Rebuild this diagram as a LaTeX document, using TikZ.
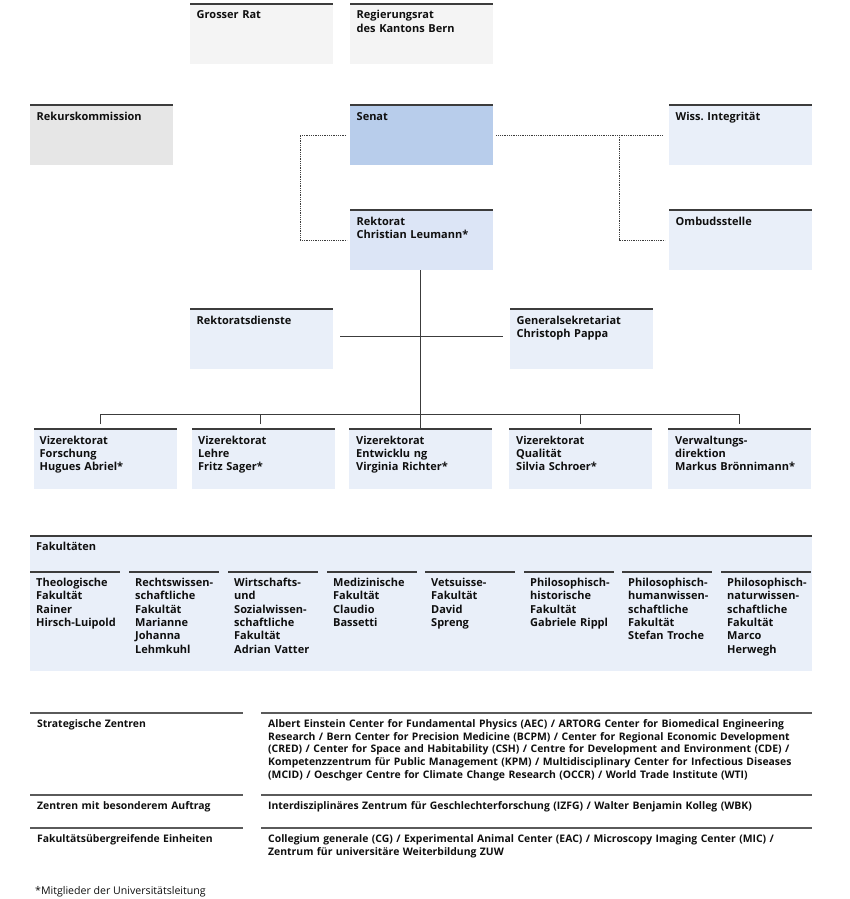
\documentclass[tikz,border=0pt]{standalone}
\usepackage{fontspec}
\setmainfont{Open Sans}
\frenchspacing
\usetikzlibrary{calc}
\definecolor{cGrayA}{HTML}{F4F4F4}
\definecolor{cGrayB}{HTML}{E6E6E6}
\definecolor{cBlueA}{HTML}{B8CDEB}
\definecolor{cBlueB}{HTML}{DCE5F6}
\definecolor{cBlueC}{HTML}{E9EFF9}
\definecolor{cLine}{HTML}{3C3C3C}
\definecolor{cRow}{HTML}{5A5A5A}
\definecolor{cText}{HTML}{0F0F0F}
\tikzset{
  orgbox/.style={rectangle, anchor=north west, inner sep=0pt, minimum width=143pt, minimum height=60pt, draw=none, fill=#1},
  topline/.style={draw=cLine, line width=1.4pt},
  rowline/.style={draw=cRow, line width=1.6pt},
  conn/.style={draw=cLine, line width=0.9pt},
  dotline/.style={draw=cLine, line width=0.9pt, dash pattern=on 0.9pt off 0.9pt},
  txt/.style={anchor=base west, inner sep=0pt, align=left, text width=#1, font=\bfseries\fontsize{11}{13.3}\selectfont, text=cText},
  txt/.default=135pt,
  btxt/.style={anchor=base west, inner sep=0pt, align=left, text width=#1, font=\bfseries\fontsize{10.4}{12.7}\selectfont, text=cText},
  btxt/.default=210pt,
}
\begin{document}
\begin{tikzpicture}[x=1pt,y=-1pt]
\useasboundingbox (0,0) rectangle (850,899);
% boxes
\node[orgbox=cGrayA] (grosser) at (190,4) {};
\node[orgbox=cGrayA] (regrat) at (350,4) {};
\node[orgbox=cGrayB] (rekurs) at (30,105) {};
\node[orgbox=cBlueA] (senat) at (350,105) {};
\node[orgbox=cBlueC] (wiss) at (669,105) {};
\node[orgbox=cBlueB] (rektorat) at (350,210) {};
\node[orgbox=cBlueC] (ombud) at (669,210) {};
\node[orgbox=cBlueC] (rdienste) at (190,309) {};
\node[orgbox=cBlueC] (gensek) at (510,309) {};
\node[orgbox=cBlueC] (vz1) at (34,429) {};
\node[orgbox=cBlueC] (vz2) at (192,429) {};
\node[orgbox=cBlueC] (vz3) at (349,429) {};
\node[orgbox=cBlueC] (vz4) at (509,429) {};
\node[orgbox=cBlueC] (vz5) at (668,429) {};
\node[rectangle, anchor=north west, inner sep=0pt, minimum width=782pt, minimum height=135pt, fill=cBlueC] (fak) at (30,536) {};
\foreach \n in {grosser,regrat,rekurs,senat,wiss,rektorat,ombud,rdienste,gensek,vz1,vz2,vz3,vz4,vz5,fak}
  \draw[topline] (\n.north west) -- (\n.north east);
% texts
\node[txt] (grosser-t) at ($(grosser.north west)+(6.5,15)$) {Grosser Rat};
\node[txt] (regrat-t) at ($(regrat.north west)+(6.5,15)$) {Regierungsrat\\des Kantons Bern};
\node[txt] (rekurs-t) at ($(rekurs.north west)+(6.5,15)$) {Rekurskommission};
\node[txt] (senat-t) at ($(senat.north west)+(6.5,15)$) {Senat};
\node[txt] (wiss-t) at ($(wiss.north west)+(6.5,15)$) {Wiss. Integrität};
\node[txt] (rektorat-t) at ($(rektorat.north west)+(6.5,15)$) {Rektorat\\Christian Leumann*};
\node[txt] (ombud-t) at ($(ombud.north west)+(6.5,15)$) {Ombudsstelle};
\node[txt] (rdienste-t) at ($(rdienste.north west)+(6.5,15)$) {Rektoratsdienste};
\node[txt] (gensek-t) at ($(gensek.north west)+(6.5,15)$) {Generalsekretariat\\Christoph Pappa};
\node[txt] (vz1-t) at ($(vz1.north west)+(5.5,15)$) {Vizerektorat\\Forschung\\Hugues Abriel*};
\node[txt] (vz2-t) at ($(vz2.north west)+(6,15)$) {Vizerektorat\\Lehre\\Fritz Sager*};
\node[txt] (vz3-t) at ($(vz3.north west)+(7,15)$) {Vizerektorat\\Entwicklu ng\\Virginia Richter*};
\node[txt] (vz4-t) at ($(vz4.north west)+(7,15)$) {Vizerektorat\\Qualität\\Silvia Schroer*};
\node[txt] (vz5-t) at ($(vz5.north west)+(7,15)$) {Verwaltungs-\\direktion\\Markus Brönnimann*};
\node[txt] (fak-t) at ($(fak.north west)+(6,14)$) {Fakultäten};
% faculty columns
\foreach \i/\x in {1/30,2/129,3/228,4/327,5/425,6/524,7/622,8/721}
  \draw[topline] (\x,572) -- (\x+90,572);
\node[txt=100pt] (f1) at (36,586.5) {Theologische\\Fakultät\\Rainer\\Hirsch-Luipold};
\node[txt=100pt] (f2) at (135,586.5) {Rechtswissen-\\schaftliche\\Fakultät\\Marianne\\Johanna\\Lehmkuhl};
\node[txt=100pt] (f3) at (234,586.5) {Wirtschafts-\\und\\Sozialwissen-\\schaftliche\\Fakultät\\Adrian Vatter};
\node[txt=100pt] (f4) at (333,586.5) {Medizinische\\Fakultät\\Claudio\\Bassetti};
\node[txt=100pt] (f5) at (431,586.5) {Vetsuisse-\\Fakultät\\David\\Spreng};
\node[txt=100pt] (f6) at (530,586.5) {Philosophisch-\\historische\\Fakultät\\Gabriele Rippl};
\node[txt=100pt] (f7) at (628,586.5) {Philosophisch-\\humanwissen-\\schaftliche\\Fakultät\\Stefan Troche};
\node[txt=100pt] (f8) at (727,586.5) {Philosophisch-\\naturwissen-\\schaftliche\\Fakultät\\Marco\\Herwegh};
% connectors
\draw[dotline] ([xshift=-4pt]senat.west) -| ([xshift=-50pt]senat.west) |- ([xshift=-3pt]rektorat.west);
\coordinate (jr) at (619,135);
\draw[dotline] ([xshift=3pt]senat.east) -- ([xshift=-6pt]wiss.west);
\draw[dotline] (jr) |- ([xshift=-4pt]ombud.west);
\draw[conn] ([xshift=-1.5pt]rektorat.south) -- ([xshift=-0.5pt]vz3.north);
\draw[conn] ([xshift=7pt,yshift=3pt]rdienste.east) -- ([xshift=-7pt,yshift=3pt]gensek.west);
\draw[conn] ([xshift=-5.5pt,yshift=5pt]vz1.north) |- ([xshift=-0.5pt,yshift=15pt]vz5.north) -- ([xshift=-0.5pt,yshift=5pt]vz5.north);
\draw[conn] ([xshift=-3.5pt,yshift=5pt]vz2.north) -- ([xshift=-3.5pt,yshift=15pt]vz2.north);
\draw[conn] ([xshift=-0.5pt,yshift=5pt]vz4.north) -- ([xshift=-0.5pt,yshift=15pt]vz4.north);
% bottom rows
\draw[rowline] (30,713) -- (243,713);
\draw[rowline] (261,713) -- (812,713);
\draw[rowline] (30,795) -- (243,795);
\draw[rowline] (261,795) -- (812,795);
\draw[rowline] (30,828) -- (243,828);
\draw[rowline] (261,828) -- (812,828);
\node[btxt] (r1l) at (37,727.5) {Strategische Zentren};
\node[btxt=560pt] (r1r) at (268,727.5) {Albert Einstein Center for Fundamental Physics (AEC) / ARTORG Center for Biomedical Engineering\\Research / Bern Center for Precision Medicine (BCPM) / Center for Regional Economic Development\\(CRED) / Center for Space and Habitability (CSH) / Centre for Development and Environment (CDE) /\\Kompetenzzentrum für Public Management (KPM) / Multidisciplinary Center for Infectious Diseases\\(MCID) / Oeschger Centre for Climate Change Research (OCCR) / World Trade Institute (WTI)};
\node[btxt] (r2l) at (37,809.5) {Zentren mit besonderem Auftrag};
\node[btxt=560pt] (r2r) at (268,809.5) {Interdisziplinäres Zentrum für Geschlechterforschung (IZFG) / Walter Benjamin Kolleg (WBK)};
\node[btxt] (r3l) at (37,842.5) {Fakultätsübergreifende Einheiten};
\node[btxt=560pt] (r3r) at (268,842.5) {Collegium generale (CG) / Experimental Animal Center (EAC) / Microscopy Imaging Center (MIC) /\\Zentrum für universitäre Weiterbildung ZUW};
\node[anchor=base west, inner sep=0pt, font=\fontsize{10.6}{12.7}\selectfont, text=cText] (foot) at (35,894.5) {*Mitglieder der Universitätsleitung};
\end{tikzpicture}
\end{document}
